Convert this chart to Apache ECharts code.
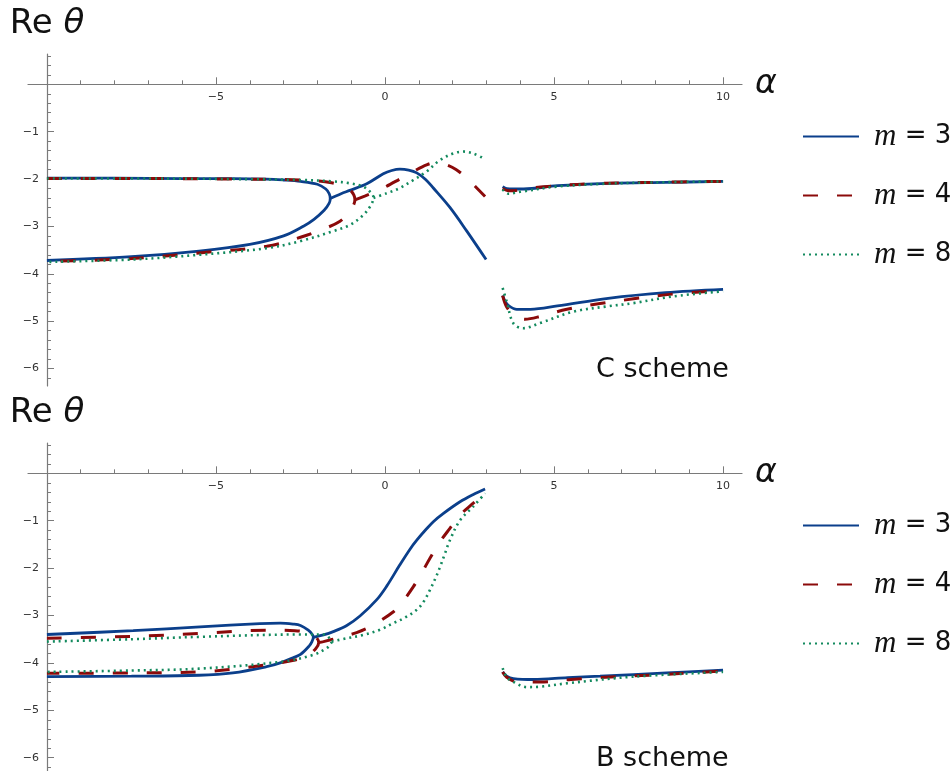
<!DOCTYPE html>
<html><head><meta charset="utf-8">
<script src="https://cdn.jsdelivr.net/npm/echarts@6/dist/echarts.min.js"></script>
<style>html,body{margin:0;padding:0;background:#fff}#c{width:950px;height:771px}</style>
</head><body><div id="c"></div>
<script>
// ---- axis ticks / labels ----
const xLabelValues = [-5, 0, 5, 10];
const xMajorTicks = [-10, -5, 0, 5, 10];
const xMinorTicks = [-10,-9,-8,-7,-6,-5,-4,-3,-2,-1,0,1,2,3,4,5,6,7,8,9,10];
const yLabelValues = [-1, -2, -3, -4, -5, -6];
const yMajorTicks = [-6, -5, -4, -3, -2, -1, 0];
const yMinorTicks = [-6.2,-5.8,-5.6,-5.4,-5.2,-4.8,-4.6,-4.4,-4.2,-3.8,-3.6,-3.4,-3.2,-2.8,-2.6,-2.4,-2.2,
                     -1.8,-1.6,-1.4,-1.2,-0.8,-0.6,-0.4,-0.2,0.2,0.4,0.6];
const seriesNames = ['m = 3', 'm = 4', 'm = 8'];
const panelNames = ['C scheme', 'B scheme'];

// ---- C scheme (top) ----
const C3_loop = [[-10,-1.98],[-8,-1.98],[-6,-1.99],[-4.5,-1.99],[-3.5,-2.0],[-3,-2.02],[-2.5,-2.05],[-2.0,-2.11],[-1.75,-2.21],[-1.65,-2.31],[-1.62,-2.41],[-1.65,-2.51],[-1.8,-2.66],[-2.1,-2.85],[-2.4,-2.99],[-3.0,-3.2],[-4.0,-3.38],[-5.5,-3.52],[-7.5,-3.64],[-10,-3.72]];
const C3_mid = [[-1.62,-2.41],[-1.3,-2.31],[-1.04,-2.24],[-0.54,-2.1],[-0.05,-1.89],[0.2,-1.82],[0.44,-1.79],[0.7,-1.81],[0.94,-1.87],[1.2,-2.01],[1.43,-2.19],[1.92,-2.6],[2.42,-3.1],[2.99,-3.7]];
const C3_hi = [[3.48,-2.16],[3.6,-2.2],[3.8,-2.21],[4.1,-2.21],[5.1,-2.14],[6.6,-2.09],[8.3,-2.07],[10,-2.05]];
const C3_lo = [[3.48,-4.46],[3.55,-4.58],[3.65,-4.67],[3.9,-4.75],[4.3,-4.75],[5.1,-4.68],[6.6,-4.52],[8.3,-4.4],[10,-4.33]];

const C4_loop = [[-10,-1.99],[-7,-1.99],[-4.5,-2.0],[-3,-2.01],[-2.0,-2.04],[-1.58,-2.08],[-1.23,-2.15],[-1.02,-2.24],[-0.92,-2.34],[-0.89,-2.44],[-0.93,-2.55],[-1.1,-2.74],[-1.33,-2.89],[-1.73,-3.03],[-2.5,-3.23],[-3.5,-3.42],[-5.5,-3.56],[-7.5,-3.68],[-10,-3.74]];
const C4_mid = [[-0.89,-2.44],[-0.6,-2.36],[-0.39,-2.3],[-0.05,-2.19],[0.44,-2.0],[0.84,-1.84],[1.23,-1.7],[1.53,-1.65],[1.82,-1.7],[2.1,-1.8],[2.42,-1.98],[2.96,-2.37]];
const C4_hi = [[3.48,-2.2],[3.6,-2.24],[3.75,-2.25],[4.0,-2.23],[4.6,-2.17],[6,-2.1],[8,-2.07],[10,-2.05]];
const C4_lo = [[3.48,-4.46],[3.6,-4.7],[3.8,-4.86],[4.14,-4.96],[4.6,-4.9],[5.38,-4.75],[6.36,-4.63],[7.35,-4.53],[8.5,-4.43],[10,-4.35]];

const C8_loop = [[-10,-1.99],[-7,-1.99],[-4.5,-2.0],[-2.5,-2.02],[-1.53,-2.05],[-1.04,-2.09],[-0.64,-2.16],[-0.44,-2.27],[-0.36,-2.34],[-0.34,-2.4],[-0.38,-2.5],[-0.44,-2.58],[-0.64,-2.76],[-1.04,-2.97],[-1.53,-3.1],[-2.5,-3.31],[-3.5,-3.46],[-5.5,-3.6],[-7.5,-3.7],[-10,-3.75]];
const C8_mid = [[-0.34,-2.4],[0.05,-2.3],[0.44,-2.19],[0.84,-2.02],[1.23,-1.84],[1.63,-1.6],[2.02,-1.46],[2.32,-1.42],[2.61,-1.46],[2.91,-1.56]];
const C8_hi = [[3.48,-2.22],[3.65,-2.31],[4.0,-2.27],[5.08,-2.16],[6.5,-2.1],[8,-2.07],[10,-2.05]];
const C8_lo = [[3.48,-4.3],[3.6,-4.59],[3.8,-5.05],[4.09,-5.15],[4.59,-5.04],[5.57,-4.8],[6.56,-4.69],[7.35,-4.62],[8.5,-4.48],[10,-4.37]];

// ---- B scheme (bottom) ----
const B3_loop = [[-10,-3.4],[-7.45,-3.32],[-5.47,-3.24],[-3.7,-3.17],[-3.1,-3.16],[-2.72,-3.18],[-2.5,-3.21],[-2.27,-3.31],[-2.15,-3.4],[-2.12,-3.46],[-2.16,-3.55],[-2.24,-3.64],[-2.5,-3.82],[-2.72,-3.89],[-3.1,-4.0],[-3.5,-4.08],[-4.5,-4.21],[-5.5,-4.26],[-7.5,-4.28],[-10,-4.29]];
const B3_mid = [[-2.12,-3.46],[-1.82,-3.41],[-1.53,-3.34],[-1.13,-3.21],[-0.74,-3.01],[-0.25,-2.67],[0.05,-2.38],[0.44,-1.93],[0.74,-1.6],[0.94,-1.41],[1.23,-1.17],[1.43,-1.02],[1.72,-0.85],[2.22,-0.6],[2.6,-0.45],[2.96,-0.33]];
const B3_r = [[3.48,-4.19],[3.6,-4.28],[3.8,-4.33],[4.39,-4.35],[5.4,-4.31],[6.36,-4.28],[8.33,-4.21],[10,-4.15]];

const B4_loop = [[-10,-3.48],[-7.5,-3.44],[-5.5,-3.38],[-3.5,-3.31],[-2.66,-3.32],[-2.27,-3.36],[-2.05,-3.45],[-1.96,-3.57],[-2.05,-3.7],[-2.31,-3.85],[-2.66,-3.94],[-3.5,-4.04],[-5.5,-4.19],[-7.5,-4.21],[-10,-4.22]];
const B4_mid = [[-1.96,-3.57],[-1.82,-3.55],[-1.33,-3.46],[-0.84,-3.36],[-0.35,-3.2],[0.25,-2.92],[0.49,-2.74],[0.84,-2.39],[1.08,-2.11],[1.33,-1.79],[1.63,-1.44],[1.92,-1.16],[2.22,-0.88],[2.61,-0.63],[2.93,-0.42]];
const B4_r = [[3.48,-4.19],[3.6,-4.3],[3.9,-4.4],[4.59,-4.4],[5.5,-4.35],[6.36,-4.31],[8.3,-4.24],[10,-4.17]];

const B8_loop = [[-10,-3.55],[-7.5,-3.5],[-5.5,-3.45],[-2.51,-3.4],[-1.82,-3.4],[-1.65,-3.47],[-1.58,-3.55],[-1.65,-3.64],[-1.73,-3.69],[-2.12,-3.83],[-3.0,-3.97],[-5.5,-4.12],[-7.5,-4.16],[-10,-4.19]];
const B8_mid = [[-1.58,-3.55],[-1.13,-3.48],[-0.64,-3.41],[-0.15,-3.3],[0.25,-3.16],[0.6,-3.04],[0.94,-2.88],[1.15,-2.7],[1.33,-2.46],[1.5,-2.2],[1.63,-1.97],[1.78,-1.68],[1.92,-1.41],[2.22,-0.99],[2.61,-0.7],[2.96,-0.42]];
const B8_r = [[3.48,-4.11],[3.6,-4.3],[3.8,-4.4],[4.19,-4.51],[4.6,-4.5],[5.38,-4.43],[7.35,-4.29],[10,-4.19]];

const panelData = [
  [[C3_loop, C3_mid, C3_hi, C3_lo], [C4_loop, C4_mid, C4_hi, C4_lo], [C8_loop, C8_mid, C8_hi, C8_lo]],
  [[B3_loop, B3_mid, B3_r], [B4_loop, B4_mid, B4_r], [B8_loop, B8_mid, B8_r]]
];

// ---- styles ----
const lineStyles = [
  {color: '#0b3f8b', width: 2.8, type: 'solid'},
  {color: '#8b0a0a', width: 3, type: [15, 19]},
  {color: '#138a5e', width: 2.6, type: [2, 4]}
];
const AX = '#7a7a7a';
const FONT = 'DejaVu Sans';
const fmt = v => String(v).replace('-', '\u2212');

// panel layouts (pixel geometry): top, y-range, height
const panels = [
  {top: 54, yMin: -6.37, yMax: 0.64, height: 332},
  {top: 443, yMin: -6.28, yMax: 0.64, height: 328}
];
const grids = [], xAxes = [], yAxes = [], series = [], legends = [], graphics = [];

panels.forEach((p, g) => {
  const xOffset = -(0 - p.yMin) / (p.yMax - p.yMin) * p.height; // x axis at y = 0
  grids.push({left: 28, top: p.top, width: 714, height: p.height, containLabel: false});
  const yMain = yAxes.length;
  yAxes.push({
    gridIndex: g, type: 'value', min: p.yMin, max: p.yMax, position: 'left', offset: -19,
    axisLine: {show: true, onZero: false, lineStyle: {color: AX, width: 1.2}},
    axisTick: {show: true, inside: true, length: 7, customValues: yMajorTicks, lineStyle: {color: AX, width: 1}},
    axisLabel: {customValues: yLabelValues, formatter: fmt, margin: 8, fontSize: 11, color: '#333', fontFamily: FONT},
    splitLine: {show: false},
    name: '{r|Re }{t|\u03b8}', nameLocation: 'end', nameGap: 13,
    nameTextStyle: {rich: {r: {fontSize: 34, fontFamily: FONT, color: '#111'}, t: {fontSize: 34, fontFamily: FONT, fontStyle: 'italic', color: '#111'}}}
  });
  yAxes.push({
    gridIndex: g, type: 'value', min: p.yMin, max: p.yMax, position: 'left', offset: -19,
    axisLine: {show: false, onZero: false},
    axisTick: {show: true, inside: true, length: 4, customValues: yMinorTicks.filter(v => v >= p.yMin), lineStyle: {color: AX, width: 1}},
    axisLabel: {show: false}, splitLine: {show: false}
  });
  const xMain = xAxes.length;
  xAxes.push({
    gridIndex: g, type: 'value', min: -10.56, max: 10.56, position: 'bottom', offset: xOffset,
    axisLine: {show: true, onZero: false, lineStyle: {color: AX, width: 1.2}},
    axisTick: {show: true, inside: true, length: 7, customValues: xMajorTicks, lineStyle: {color: AX, width: 1}},
    axisLabel: {customValues: xLabelValues, formatter: fmt, margin: 7, fontSize: 11, color: '#333', fontFamily: FONT},
    splitLine: {show: false},
    name: '\u03b1', nameLocation: 'end', nameGap: 13,
    nameTextStyle: {fontSize: 33, fontFamily: FONT, fontStyle: 'italic', color: '#111', padding: [6, 0, 0, 0]}
  });
  xAxes.push({
    gridIndex: g, type: 'value', min: -10.56, max: 10.56, position: 'bottom', offset: xOffset,
    axisLine: {show: false, onZero: false},
    axisTick: {show: true, inside: true, length: 4, customValues: xMinorTicks, lineStyle: {color: AX, width: 1}},
    axisLabel: {show: false}, splitLine: {show: false}
  });

  panelData[g].forEach((segs, k) => {
    segs.forEach(seg => {
      series.push({
        type: 'line', name: seriesNames[k], xAxisIndex: xMain, yAxisIndex: yMain,
        data: seg, symbol: 'none', showSymbol: false, smooth: 0.35, clip: true,
        lineStyle: Object.assign({cap: 'butt'}, lineStyles[k]), color: lineStyles[k].color,
        z: 2 + k, silent: true
      });
    });
  });

  legends.push({
    orient: 'vertical', left: 797, top: 116 + g * 389, itemWidth: 56, itemHeight: 14, itemGap: 28,
    data: seriesNames, selectedMode: false,
    itemStyle: {opacity: 0, color: 'rgba(0,0,0,0)', borderWidth: 0},
    formatter: n => '{i|m}{t|' + n.slice(1) + '}',
    textStyle: {padding: [0, 0, 0, 10], rich: {
      i: {fontFamily: 'Liberation Serif', fontStyle: 'italic', fontSize: 31, color: '#111', lineHeight: 30},
      t: {fontFamily: FONT, fontSize: 26, color: '#111', lineHeight: 30}
    }}
  });

  graphics.push({type: 'text', left: 596, top: 356 + g * 389,
    style: {text: panelNames[g], fontSize: 27, fontFamily: FONT, fill: '#111'}});
});

const chart = echarts.init(document.getElementById('c'), null, {renderer: 'canvas'});
chart.setOption({
  animation: false, backgroundColor: '#fff',
  grid: grids, xAxis: xAxes, yAxis: yAxes, series: series, legend: legends, graphic: graphics
});
</script></body></html>
